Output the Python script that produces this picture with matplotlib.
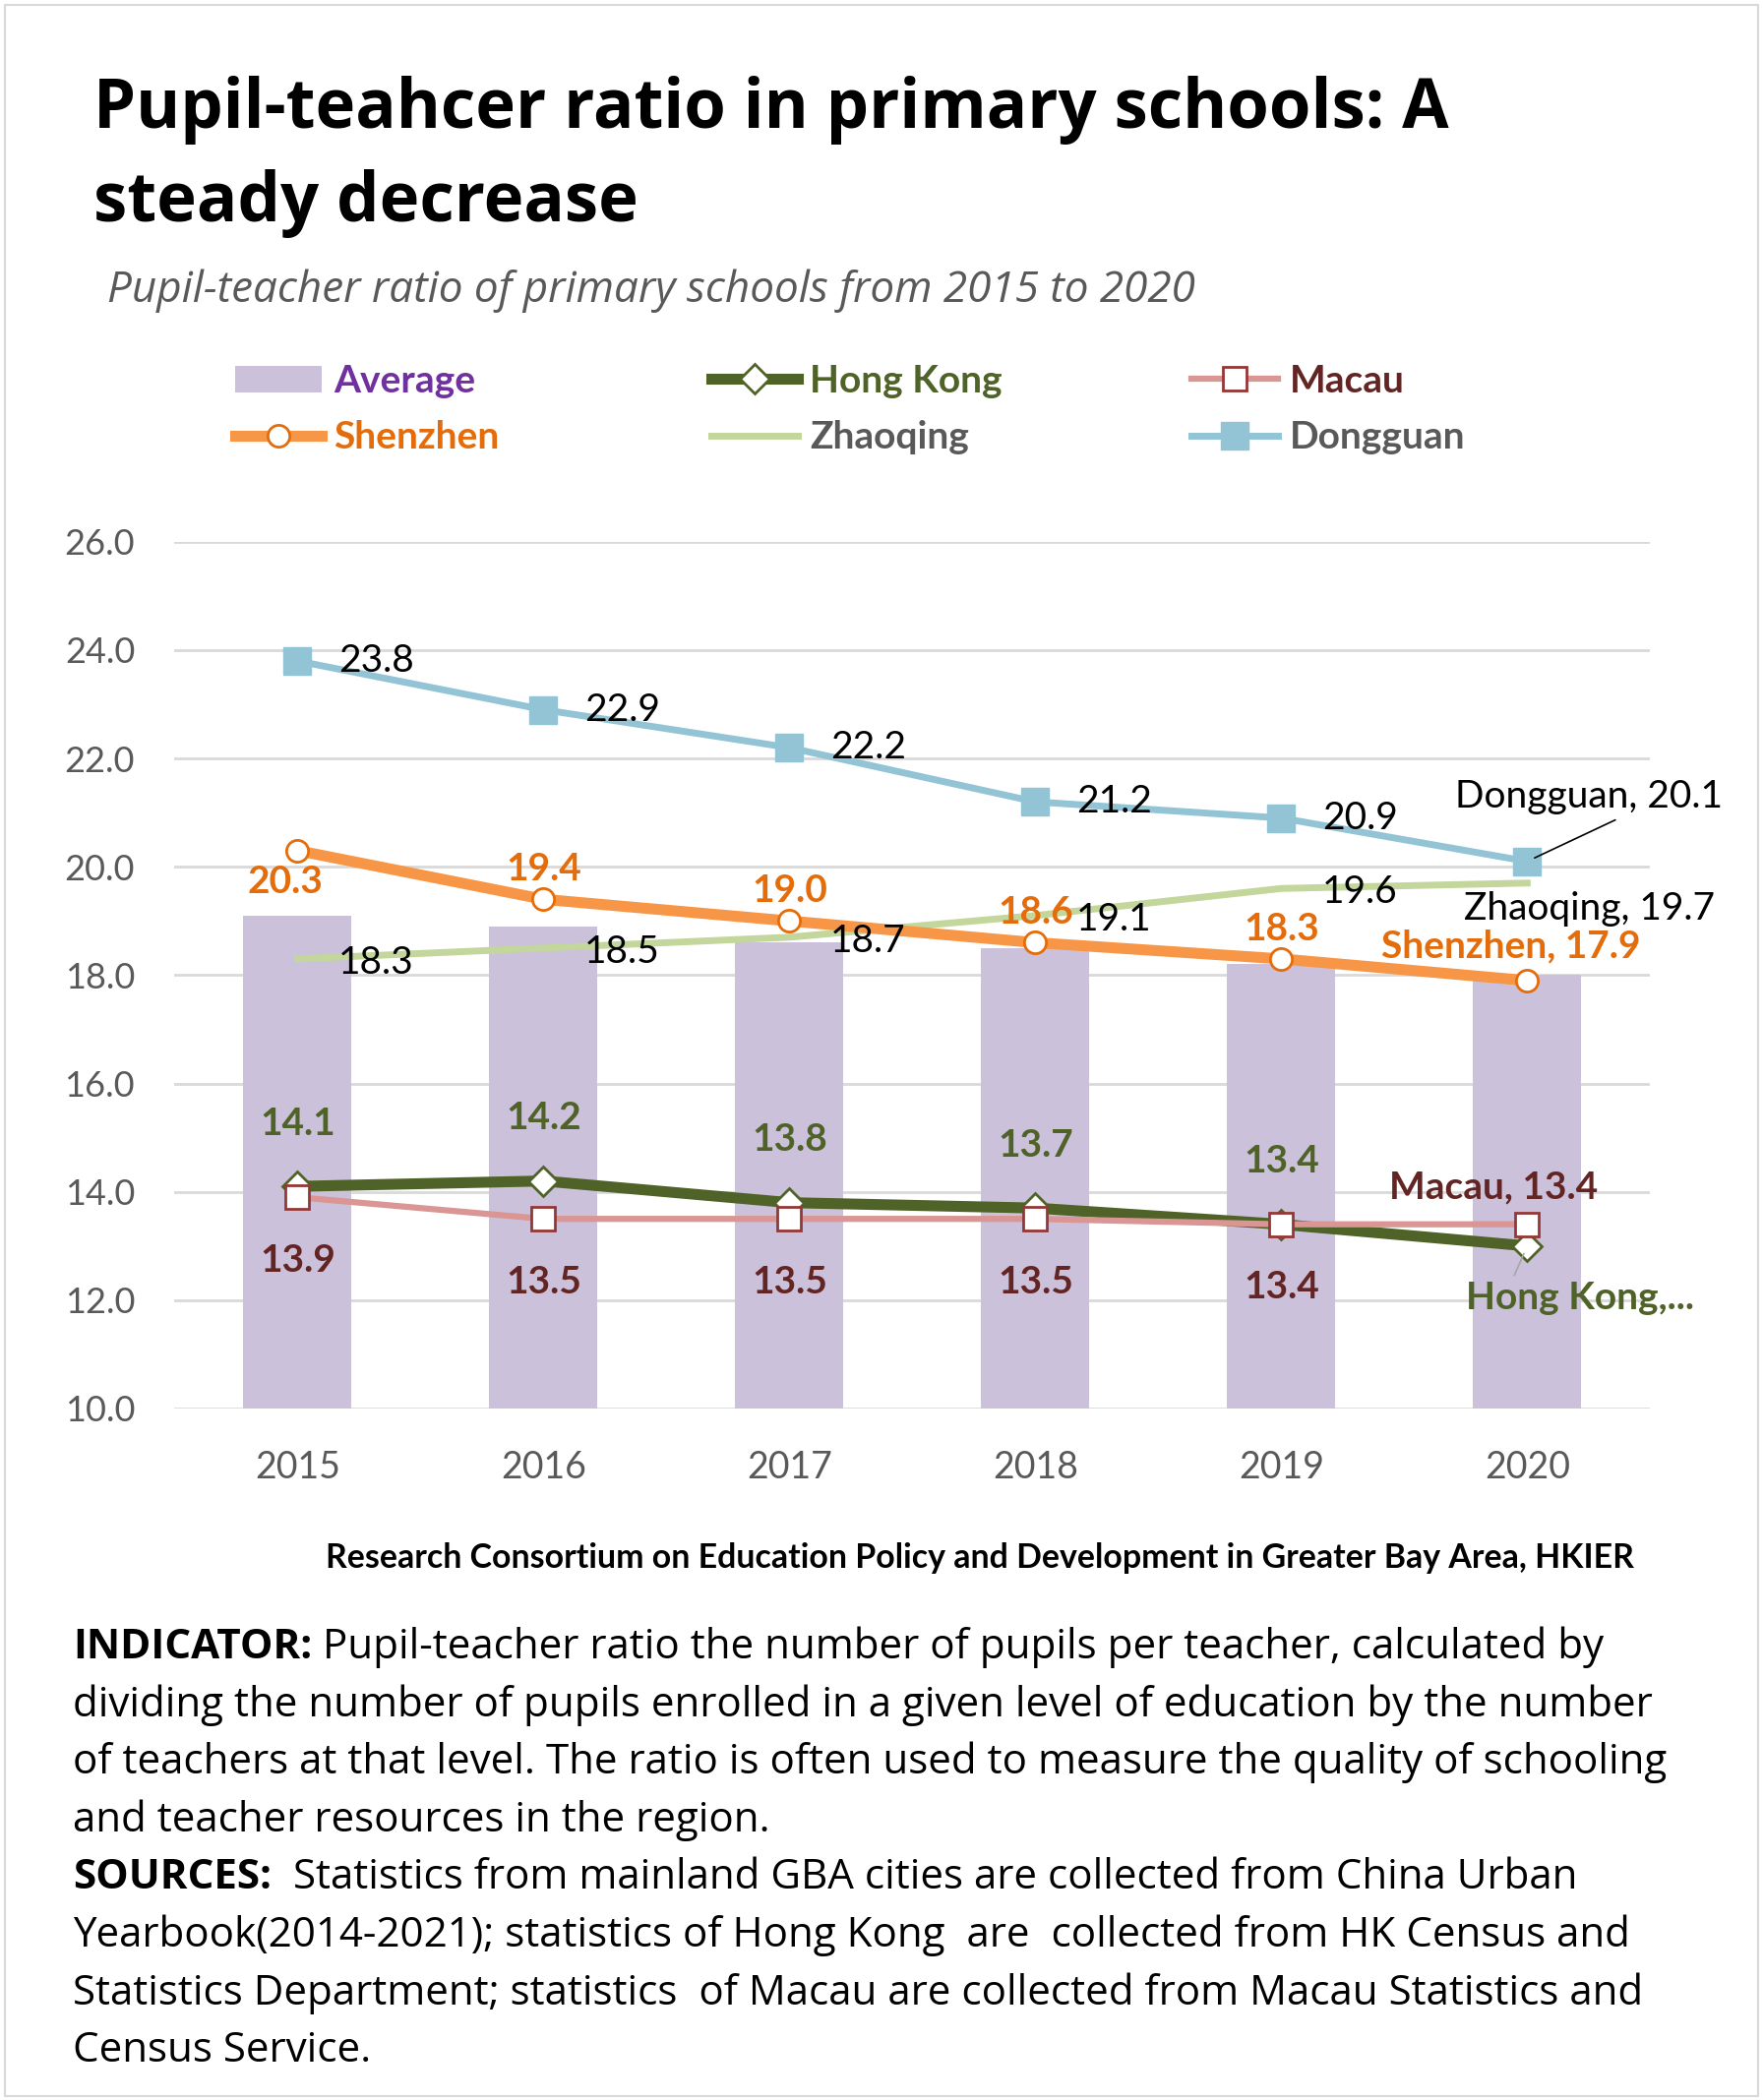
import matplotlib
matplotlib.use("Agg")
import matplotlib.pyplot as plt
from matplotlib.patches import Rectangle
import numpy as np

years = ["2015", "2016", "2017", "2018", "2019", "2020"]
average = [19.1, 18.9, 18.6, 18.5, 18.2, 18.0]
hong_kong = [14.1, 14.2, 13.8, 13.7, 13.4, 13.0]
macau = [13.9, 13.5, 13.5, 13.5, 13.4, 13.4]
shenzhen = [20.3, 19.4, 19.0, 18.6, 18.3, 17.9]
zhaoqing = [18.3, 18.5, 18.7, 19.1, 19.6, 19.7]
dongguan = [23.8, 22.9, 22.2, 21.2, 20.9, 20.1]

W, H = 1792, 2135
CHART_FONT = ["Lato", "DejaVu Sans"]
TEXT_FONT = ["Open Sans", "DejaVu Sans"]
GREY = "#595959"

def fx(px):
    return px / W

def fy(px):
    return 1 - px / H

fig = plt.figure(figsize=(W / 100, H / 100), dpi=100)
fig.patch.set_facecolor("white")
fig.patches.append(Rectangle((fx(5), fy(2131)), fx(1782), 2126 / H, transform=fig.transFigure,
                             fill=False, edgecolor="#D9D9D9", linewidth=1.5))

# titles
fig.text(fx(95), fy(130), "Pupil-teahcer ratio in primary schools: A", fontsize=49.5,
         fontweight="bold", family=TEXT_FONT, va="baseline")
fig.text(fx(95), fy(225), "steady decrease", fontsize=49.5, fontweight="bold",
         family=TEXT_FONT, va="baseline")
fig.text(fx(109), fy(307), "Pupil-teacher ratio of primary schools from 2015 to 2020",
         fontsize=31.7, style="italic", color=GREY, family=TEXT_FONT, va="baseline")

ax = fig.add_axes([0.099, 0.3293, 0.837, 0.4127])
x = np.arange(len(years))

bars = ax.bar(x, average, width=0.44, color="#CCC1DA", zorder=1, label="Average")
l_hk, = ax.plot(x, hong_kong, color="#4F6228", lw=8, marker="D", ms=15, mfc="white",
                mec="#4F6228", mew=2, zorder=3, label="Hong Kong")
l_mc, = ax.plot(x, macau, color="#DA9694", lw=4.5, marker="s", ms=17, mfc="white",
                mec="#953735", mew=2, zorder=4, label="Macau")
l_zq, = ax.plot(x, zhaoqing, color="#C3D69B", lw=5, zorder=3, label="Zhaoqing")
l_sz, = ax.plot(x, shenzhen, color="#F79646", lw=8, marker="o", ms=16, mfc="white",
                mec="#E46C0A", mew=2, zorder=4, label="Shenzhen")
l_dg, = ax.plot(x, dongguan, color="#93C4D6", lw=5, marker="s", ms=20, zorder=4,
                label="Dongguan")

ax.set_xlim(-0.5, 5.5)
ax.set_ylim(10, 26)
ax.set_yticks(np.arange(10, 26.1, 2))
ax.set_yticklabels([f"{v:.1f}" for v in np.arange(10, 26.1, 2)])
ax.set_xticks(x)
ax.set_xticklabels(years)
ax.yaxis.grid(True, color="#D9D9D9", lw=2, zorder=0)
ax.set_axisbelow(True)
for s in ax.spines.values():
    s.set_visible(False)
ax.tick_params(axis="both", length=0, labelsize=27, labelcolor=GREY)
ax.tick_params(axis="y", labelsize=26, pad=29)
ax.tick_params(axis="x", pad=30)
for lab in ax.get_xticklabels() + ax.get_yticklabels():
    lab.set_family(CHART_FONT)

LS = 28  # data label size

def label(vals, offsets, color, weight, last_name, last_off, ha="center", last_ha="left", arrow=None):
    for i, v in enumerate(vals[:-1]):
        ax.annotate(f"{v:.1f}", (x[i], v), xytext=offsets, textcoords="offset points",
                    ha=ha, va="center", fontsize=LS, color=color, fontweight=weight,
                    family=CHART_FONT, zorder=6)
    ax.annotate(last_name, (x[-1], vals[-1]), xytext=last_off, textcoords="offset points",
                ha=last_ha, va="center", fontsize=LS, color=color, fontweight=weight,
                family=CHART_FONT, zorder=6, arrowprops=arrow)

label(dongguan, (30, 0), "black", "normal", f"Dongguan, {dongguan[-1]:.1f}", (-53, 47),
      ha="left", arrow=dict(arrowstyle="-", color="black", lw=1.2, relpos=(0.64, 0.0),
                            shrinkA=4, shrinkB=6))
label(zhaoqing, (30, -3), "black", "normal", f"Zhaoqing, {zhaoqing[-1]:.1f}", (-46, -19),
      ha="left")
label(shenzhen, (0, 22), "#E46C0A", "bold", f"Shenzhen, {shenzhen[-1]:.1f}", (-12, 25),
      last_ha="center")
label(hong_kong, (0, 46), "#4F6228", "bold", "Hong Kong,...", (39, -38), last_ha="center",
      arrow=dict(arrowstyle="-", color="#A6A6A6", lw=1.2, relpos=(0.2, 1.0), shrinkA=2, shrinkB=6))
label(macau, (0, -46), "#632523", "bold", f"Macau, {macau[-1]:.1f}", (-25, 27), last_ha="center")
# first Shenzhen label sits below the point
ax.texts[2 * 6].set_position((-9, -23))

# legend in three fixed columns
cols = [([bars, l_sz], ["Average", "Shenzhen"], ["#7030A0", "#E46C0A"], 239),
        ([l_hk, l_zq], ["Hong Kong", "Zhaoqing"], ["#4F6228", GREY], 723),
        ([l_mc, l_dg], ["Macau", "Dongguan"], ["#632523", GREY], 1211)]
for handles, names, colors, px in cols:
    leg = fig.legend(handles, names, loc="upper left", bbox_to_anchor=(fx(px), fy(370)),
                     frameon=False, borderpad=0, borderaxespad=0, handlelength=2.25,
                     handletextpad=0.32, labelspacing=0.57,
                     prop=dict(family=CHART_FONT, weight="bold", size=28))
    for t, c in zip(leg.get_texts(), colors):
        t.set_color(c)

fig.text(fx(1661), fy(1584),
         "Research Consortium on Education Policy and Development in Greater Bay Area, HKIER",
         fontsize=24.4, fontweight="bold", family=CHART_FONT, ha="right", va="center")

# notes
lines = [("INDICATOR:", " Pupil-teacher ratio the number of pupils per teacher, calculated by"),
         (None, "dividing the number of pupils enrolled in a given level of education by the number"),
         (None, "of teachers at that level. The ratio is often used to measure the quality of schooling"),
         (None, "and teacher resources in the region."),
         ("SOURCES:", "  Statistics from mainland GBA cities are collected from China Urban"),
         (None, "Yearbook(2014-2021); statistics of Hong Kong  are  collected from HK Census and"),
         (None, "Statistics Department; statistics  of Macau are collected from Macau Statistics and"),
         (None, "Census Service.")]
y0 = 1675
for i, (bold, rest) in enumerate(lines):
    yy = fy(y0 + i * 58.6)
    if bold:
        b = fig.text(fx(74), yy, bold, fontsize=30.3, fontweight="bold", family=TEXT_FONT, va="center")
        fig.texts.append(plt.Annotation(rest, xy=(1, 0), xycoords=b, va="bottom", ha="left",
                                        fontsize=30.3, family=TEXT_FONT))
        fig.texts[-1].set_figure(fig)
    else:
        fig.text(fx(74), yy, rest, fontsize=30.3, family=TEXT_FONT, va="center")

fig.savefig("out.png", dpi=100)
